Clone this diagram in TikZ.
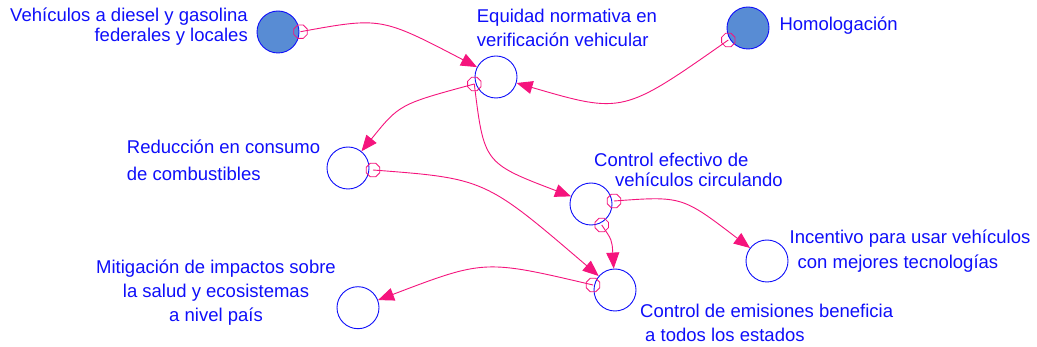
\documentclass[tikz,border=0pt]{standalone}
\usepackage{fontspec}
\setmainfont{Liberation Sans}
\usetikzlibrary{shapes.geometric,arrows.meta}
\definecolor{vblue}{RGB}{15,15,250}
\definecolor{vfill}{RGB}{88,140,212}
\definecolor{lpink}{RGB}{245,20,125}
\begin{document}
\begin{tikzpicture}[x=1pt,y=1pt,
  var/.style={circle, draw=vblue, line width=0.9pt, minimum size=42pt, inner sep=0pt},
  shadowvar/.style={var, fill=vfill},
  oct/.style={regular polygon, regular polygon sides=8, draw=lpink, line width=0.8pt, minimum size=14.5pt, inner sep=0pt},
  link/.style={draw=lpink, line width=0.9pt, -{Triangle[length=16pt,width=13pt]}},
  lbl/.style={text=vblue, inner sep=0pt}
]
\useasboundingbox[fill=white] (0,0) rectangle (1037,-347);

% variables
\node[shadowvar] (A) at (278,-32) {};
\node[shadowvar] (H) at (748,-28) {};
\node[var] (E) at (496,-77) {};
\node[var] (R) at (348,-168) {};
\node[var] (C) at (591,-204) {};
\node[var] (I) at (767,-261) {};
\node[var] (CE) at (615,-290) {};
\node[var] (M) at (358,-307.7) {};

% link tails
\node[oct] (oA) at (300.5,-31.7) {};
\node[oct] (oH) at (728.3,-40) {};
\node[oct] (oE) at (474.3,-84) {};
\node[oct] (oR) at (373,-170) {};
\node[oct] (oC1) at (614,-201) {};
\node[oct] (oC2) at (601.7,-225) {};
\node[oct] (oCE) at (593,-285) {};

% links
\draw[link] (oA.center) .. controls (381,-17) .. (E);
\draw[link] (oH.center) .. controls (623,-114) .. (E);
\draw[link] (oE.center) .. controls (399.5,-104.2) .. (R);
\draw[link] (oE.center) .. controls (484,-163.2) .. (C);
\draw[link] (oR.center) .. controls (485,-178.5) .. (CE);
\draw[link] (oC1.center) .. controls (682,-196) .. (I);
\draw[link] (oC2.center) .. controls (612,-240) .. (CE);
\draw[link] (oCE.center) .. controls (484.5,-259.5) .. (M);

% labels (base anchor = baseline of the last line)
\node[lbl, anchor=base east, align=right, font=\fontsize{18.5}{20}\selectfont] (LA) at (248,-41.7)
  {Vehículos a diesel y gasolina\\federales y locales};
\node[lbl, anchor=base west, align=left, font=\fontsize{18.5}{24.2}\selectfont] (LE) at (476.7,-46.7)
  {Equidad normativa en\\verificación vehicular};
\node[lbl, anchor=base west, font=\fontsize{18.5}{22}\selectfont] (LH) at (779.3,-30.7)
  {Homologación};
\node[lbl, anchor=base west, align=left, font=\fontsize{18.5}{26.7}\selectfont] (LR) at (126.7,-180.7)
  {Reducción en consumo\\de combustibles};
\node[lbl, anchor=base west, align=left, font=\fontsize{18.5}{20}\selectfont] (LC) at (594,-186.7)
  {Control efectivo de\\\hspace*{21pt}vehículos circulando};
\node[lbl, anchor=base west, align=left, font=\fontsize{18.5}{25}\selectfont] (LI) at (789.5,-268.3)
  {Incentivo para usar vehículos\\\hspace*{8pt}con mejores tecnologías};
\node[lbl, anchor=base west, align=left, font=\fontsize{18.5}{24.4}\selectfont] (LCE) at (640,-341.7)
  {Control de emisiones beneficia\\\hspace*{5pt}a todos los estados};
\node[lbl, anchor=base, align=center, font=\fontsize{18.5}{24.2}\selectfont] (LM) at (216,-321.7)
  {Mitigación de impactos sobre\\la salud y ecosistemas\\a nivel país};
\end{tikzpicture}
\end{document}
